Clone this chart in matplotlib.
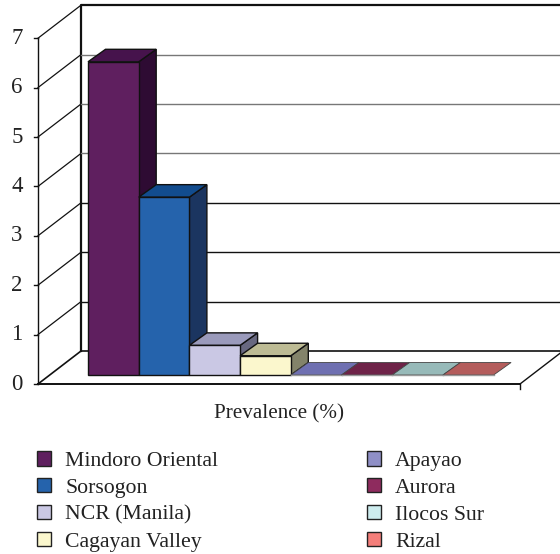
import matplotlib
matplotlib.use("Agg")
import matplotlib.pyplot as plt
from matplotlib.patches import Patch, Polygon

plt.rcParams['font.family'] = ['Liberation Serif', 'DejaVu Serif']

# data
regions = ["Mindoro Oriental", "Sorsogon", "NCR (Manila)", "Cagayan Valley",
           "Apayao", "Aurora", "Ilocos Sur", "Rizal"]
prevalence = [6.34, 3.6, 0.6, 0.39, 0, 0, 0, 0]
y_ticks = [0, 1, 2, 3, 4, 5, 6, 7]

# colours
front_colors = ["#5F1F5F", "#2563AC", "#CAC8E4", "#FBF7CD",
                "#8F8FC6", "#8E2B5E", "#CDECEE", "#F47E7A"]
top_colors = ["#46134C", "#124C8E", "#9A9ABB", "#BDBB94",
              "#6F70B1", "#6E2348", "#97BAB9", "#B45D5C"]
side_colors = ["#2E0B33", "#1B3560", "#686880", "#83836A",
               "#55558A", "#551B38", "#74908F", "#8B4746"]

# scale of the picture
W, H = 560, 554
px_x = 50.7   # pixels per category
px_y = 49.4   # pixels per prevalence unit
x0_px = 88    # left edge of first bar
y0_px = 384   # prevalence 0 on the front plane

fig = plt.figure(figsize=(W / 100, H / 100), dpi=100)
ax = fig.add_axes([0, 0, 1, 1])
ax.set_xlim(-x0_px / px_x, (W - x0_px) / px_x)
ax.set_ylim((y0_px - H) / px_y, y0_px / px_y)
ax.axis("off")


# oblique projection: depth 0 is the front plane, depth 1 the back wall
def project(cat, value, depth=0.0):
    return (cat + depth * 43 / px_x, value + depth * 33 / px_y)


x_left = -50 / px_x
x_right = 432 / px_x
y_max = y_ticks[-1]
x_far = (W - x0_px) / px_x + 0.2
dark = "#111111"

# back wall and floor
wall_l = project(x_left, 0, 1)
wall_t = project(x_left, y_max, 1)
ax.plot([wall_l[0], wall_t[0], x_far], [wall_l[1], wall_t[1], wall_t[1]],
        color=dark, lw=1.6, zorder=1)
ax.plot([wall_l[0], x_far], [wall_l[1], wall_l[1]], color=dark, lw=1.2, zorder=1)
ax.plot([x_left, wall_l[0]], [0, wall_l[1]], color=dark, lw=1.2, zorder=1)
fr = project(x_right, 0, 0)
bk = project(x_right, 0, 1)
ax.plot([fr[0], bk[0]], [fr[1], bk[1]], color=dark, lw=1.0, zorder=1)

# gridlines
for v in y_ticks[1:]:
    b = project(x_left, v, 1)
    ax.plot([x_left, b[0]], [v, b[1]], color=dark, lw=0.9, zorder=1)
    if v < y_max:
        grid_c = "#777777" if v >= 4 else dark
        ax.plot([b[0], x_far], [b[1], b[1]], color=grid_c, lw=1.0, zorder=1)

# front axes
ax.plot([x_left, x_left], [0, y_max], color=dark, lw=1.0, zorder=2)
ax.plot([x_left, x_right], [0, 0], color=dark, lw=1.4, zorder=2)
ax.plot([x_right, x_right], [0, -5 / px_y], color=dark, lw=1.0, zorder=2)
for v in y_ticks:
    ax.plot([x_left - 4 / px_x, x_left], [v, v], color=dark, lw=1.0, zorder=2)
    ax.text(-71 / px_x, v, str(v), fontsize=16.5, color="#222222",
            ha="center", va="center")

# bars, left to right so each one overlaps the side of the previous
base = 9 / px_y
dz = 17.5 / px_x
dy = 12.5 / px_y
for i in range(len(regions)):
    h = prevalence[i]
    front = [(i, base), (i + 1, base), (i + 1, base + h), (i, base + h)]
    top = [(i, base + h), (i + 1, base + h),
           (i + 1 + dz, base + h + dy), (i + dz, base + h + dy)]
    side = [(i + 1, base), (i + 1 + dz, base + dy),
            (i + 1 + dz, base + h + dy), (i + 1, base + h)]
    z = 3 + i * 0.1
    if h > 0:
        ax.add_patch(Polygon(side, fc=side_colors[i], ec=dark, lw=1.0, zorder=z))
        ax.add_patch(Polygon(front, fc=front_colors[i], ec=dark, lw=1.0, zorder=z + 0.02))
        ax.add_patch(Polygon(top, fc=top_colors[i], ec=dark, lw=1.0, zorder=z + 0.01))
    else:
        ax.add_patch(Polygon(top, fc=top_colors[i], ec="#444444", lw=0.6, zorder=z))
        ax.plot([i, i + 1], [base, base], color="#999999", lw=1.0, zorder=z)

# axis label
ax.text((279 - x0_px) / px_x, (y0_px - 414) / px_y, "Prevalence (%)",
        fontsize=15.2, color="#222222", ha="center", va="center")

# legend
handles = [Patch(fc=c, ec="#222222", lw=1.0, label=r)
           for c, r in zip(front_colors, regions)]
leg = ax.legend(handles=handles, ncols=2, frameon=False, fontsize=15.7,
                loc="upper left", bbox_to_anchor=(37 / W, 1 - 451 / H),
                borderpad=0, borderaxespad=0, handlelength=0.65, handleheight=0.65,
                handletextpad=0.65, labelspacing=0.32, columnspacing=6.8)
for t in leg.get_texts():
    t.set_color("#222222")

fig.savefig("out.png", dpi=100)
